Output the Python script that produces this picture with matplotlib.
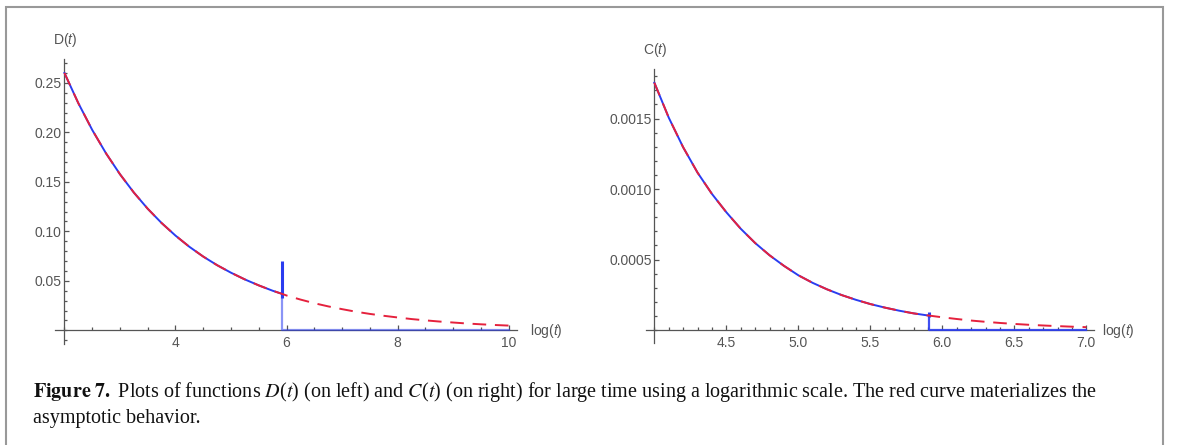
import matplotlib
matplotlib.use("Agg")
import matplotlib.pyplot as plt
from matplotlib.patches import Rectangle
from matplotlib.ticker import FixedLocator, MultipleLocator, FormatStrFormatter

# D(t) : exact curve (blue) and asymptotic curve (red), x = log(t)
d_x = [2.0, 2.25, 2.5, 2.75, 3.0, 3.25, 3.5, 3.75, 4.0, 4.25, 4.5, 4.75,
       5.0, 5.25, 5.5, 5.75, 5.91, 6.0, 6.25, 6.5, 6.75, 7.0, 7.25, 7.5,
       7.75, 8.0, 8.25, 8.5, 8.75, 9.0, 9.25, 9.5, 9.75, 10.0]
d_asym = [0.2600, 0.2295, 0.2025, 0.1787, 0.1577, 0.1392, 0.1228, 0.1084,
          0.0957, 0.0844, 0.0745, 0.0658, 0.0582, 0.0514, 0.0454, 0.0400,
          0.0370, 0.0352, 0.0311, 0.0274, 0.0242, 0.0214, 0.0188, 0.0166,
          0.0147, 0.0130, 0.0114, 0.0101, 0.0089, 0.0079, 0.0069, 0.0061,
          0.0054, 0.0048]
d_cut = 5.91
d_spike = [0.033, 0.070]
d_tail_x = [5.91, 5.91, 10.0]
d_tail_y = [0.037, 0.0, 0.0]

# C(t)
c_x = [4.0, 4.1, 4.2, 4.3, 4.4, 4.5, 4.6, 4.7, 4.8, 4.9, 5.0, 5.1, 5.2,
       5.3, 5.4, 5.5, 5.6, 5.7, 5.8, 5.9, 5.91, 6.0, 6.1, 6.2, 6.3, 6.4,
       6.5, 6.6, 6.7, 6.8, 6.9, 7.0]
c_asym = [0.001754, 0.001506, 0.001296, 0.001116, 0.000965, 0.000835,
          0.000718, 0.000617, 0.000530, 0.000455, 0.000388, 0.000334,
          0.000288, 0.000248, 0.000214, 0.000184, 0.000159, 0.000137,
          0.000118, 0.000103, 0.000102, 0.0000900, 0.0000780, 0.0000670,
          0.0000580, 0.0000500, 0.0000430, 0.0000370, 0.0000320,
          0.0000275, 0.0000235, 0.0000200]
c_cut = 5.91
c_spike = [0.000095, 0.000125]
c_tail_x = [5.91, 5.91, 7.0]
c_tail_y = [0.000102, 0.0, 0.0]

BLUE = "#2a3cf0"
RED = "#e5213d"
AXC = "#555555"
TXC = "#555555"

plt.rcParams["font.family"] = ["Liberation Sans", "DejaVu Sans"]
plt.rcParams["mathtext.fontset"] = "custom"
plt.rcParams["mathtext.it"] = "Liberation Sans:italic"
plt.rcParams["mathtext.rm"] = "Liberation Sans"

W, H = 1179, 445
fig = plt.figure(figsize=(W / 100, H / 100), dpi=100)


def setup(ax, x0, xlim, ylim):
    ax.set_xlim(*xlim)
    ax.set_ylim(*ylim)
    for s in ("top", "right"):
        ax.spines[s].set_visible(False)
    ax.spines["left"].set_position(("data", x0))
    ax.spines["bottom"].set_position(("data", 0))
    for s in ("left", "bottom"):
        ax.spines[s].set_color(AXC)
        ax.spines[s].set_linewidth(0.9)
    ax.tick_params(which="both", direction="in", color=AXC, width=0.9,
                   labelsize=10, labelcolor=TXC)
    ax.tick_params(which="major", length=3.8)
    ax.tick_params(which="minor", length=2.2)
    ax.tick_params(axis="x", pad=4)
    ax.tick_params(axis="y", pad=2)
    ax.patch.set_alpha(0)


def curves(ax, xs, ys, cut, spike, tail_x, tail_y, tail_alpha):
    bx = [x for x in xs if x <= cut]
    by = ys[:len(bx)]
    ax.plot(bx, by, color=BLUE, lw=1.4, zorder=3)
    ax.plot([cut, cut], spike, color=BLUE, lw=2.2, zorder=3,
            solid_capstyle="butt")
    ax.plot(tail_x, tail_y, color=BLUE, lw=1.6, alpha=tail_alpha, zorder=3,
            clip_on=False)
    ax.plot(xs, ys, color=RED, lw=1.4, dashes=(7, 4.5), zorder=4)


# left panel
ax1 = fig.add_axes([55 / W, 1 - 344 / H, 462 / W, 284.7 / H])
setup(ax1, 2.0, (1.83, 10.15), (-0.0138, 0.2738))
curves(ax1, d_x, d_asym, d_cut, d_spike, d_tail_x, d_tail_y, 0.55)
ax1.xaxis.set_major_locator(FixedLocator([4, 6, 8, 10]))
ax1.xaxis.set_minor_locator(MultipleLocator(0.5))
ax1.xaxis.set_major_formatter(FormatStrFormatter("%d"))
ax1.yaxis.set_major_locator(FixedLocator([0.05, 0.10, 0.15, 0.20, 0.25]))
ax1.yaxis.set_minor_locator(MultipleLocator(0.01))
ax1.yaxis.set_major_formatter(FormatStrFormatter("%.2f"))

# right panel
ax2 = fig.add_axes([646 / W, 1 - 343 / H, 448 / W, 273.7 / H])
setup(ax2, 4.0, (3.942, 7.053), (-0.0000922, 0.001849))
curves(ax2, c_x, c_asym, c_cut, c_spike, c_tail_x, c_tail_y, 0.9)
ax2.xaxis.set_major_locator(FixedLocator([4.5, 5.0, 5.5, 6.0, 6.5, 7.0]))
ax2.xaxis.set_minor_locator(MultipleLocator(0.1))
ax2.xaxis.set_major_formatter(FormatStrFormatter("%.1f"))
ax2.yaxis.set_major_locator(FixedLocator([0.0005, 0.0010, 0.0015]))
ax2.yaxis.set_minor_locator(MultipleLocator(0.0001))
ax2.yaxis.set_major_formatter(FormatStrFormatter("%.4f"))

# axis names
lab = dict(fontsize=10, color=TXC, va="center", ha="left")
fig.text(53 / W, 1 - 40 / H, "D($t$)", **lab)
fig.text(530 / W, 1 - 331 / H, "log($t$)", **lab)
fig.text(643 / W, 1 - 50 / H, "C($t$)", **lab)
fig.text(1102 / W, 1 - 331 / H, "log($t$)", **lab)

# caption
cap = dict(fontsize=14.5, color="#111111", va="baseline", ha="left",
           family="Liberation Serif", math_fontfamily="stix")
fig.text(33 / W, 1 - 397 / H,
         r"$\mathbf{Figure\ 7.}$ Plots of functions $D$($t$) (on left) and "
         r"$C$($t$) (on right) for large time using a logarithmic scale. "
         r"The red curve materializes the", **cap)
fig.text(33 / W, 1 - 423 / H, "asymptotic behavior.", **cap)

# frame around figure and caption
fig.add_artist(Rectangle((5.5 / W, -0.05), (1162.5 - 5.5) / W,
                         1.05 - 7 / H, transform=fig.transFigure,
                         fill=False, edgecolor="#999999", lw=1.5))

fig.savefig("out.png", dpi=100)
